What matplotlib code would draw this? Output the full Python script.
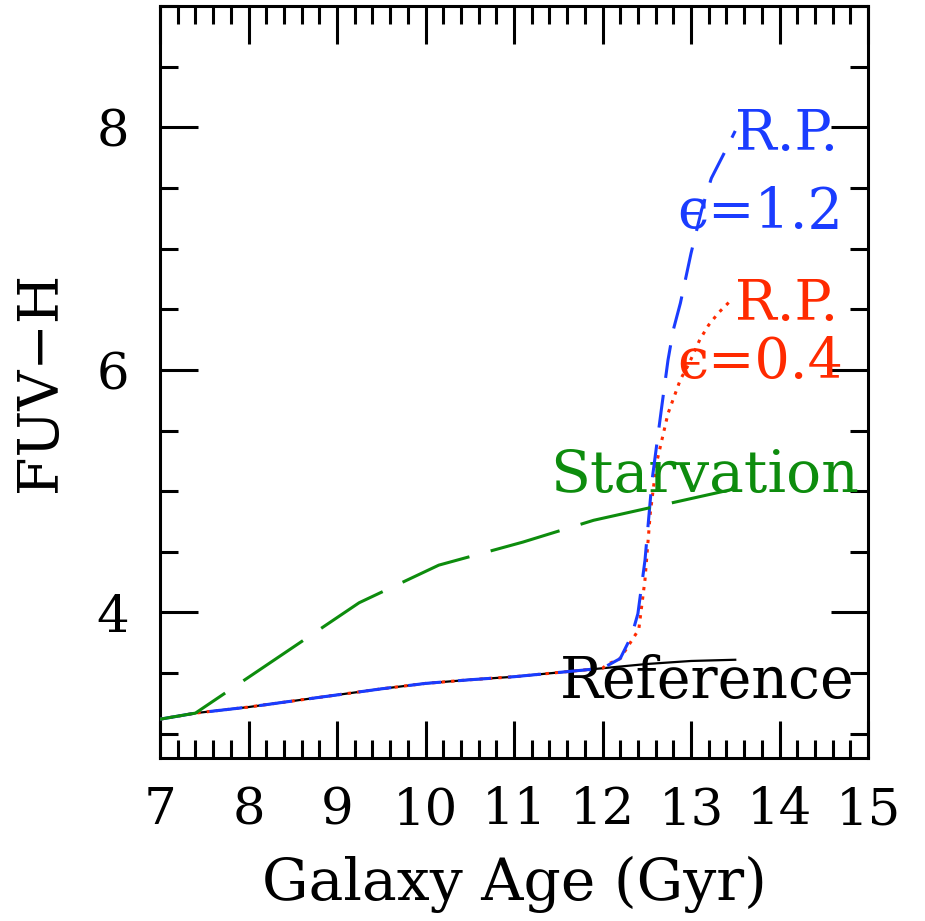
import numpy as np
import matplotlib.pyplot as plt
from matplotlib.ticker import MultipleLocator

# galaxy age (Gyr) and FUV-H colour for each model track
age_ref = [7.0, 7.4, 8.0, 8.5, 9.0, 9.5, 10.0, 10.5, 11.0, 11.5, 12.0, 12.5, 13.0, 13.5]
col_ref = [3.12, 3.17, 3.22, 3.27, 3.32, 3.37, 3.415, 3.445, 3.47, 3.505, 3.54, 3.575, 3.60, 3.61]

age_starv = [7.0, 7.4, 9.25, 10.15, 11.1, 11.9, 12.7, 13.5]
col_starv = [3.12, 3.17, 4.08, 4.39, 4.58, 4.76, 4.89, 5.02]

# ram pressure tracks share the reference track up to 12 Gyr
age_early = age_ref[:11]
col_early = col_ref[:11]

age_rp12 = [12.2, 12.33, 12.40, 12.48, 12.56, 12.67, 12.74, 12.80, 12.88, 13.0, 13.12, 13.23, 13.37, 13.5]
col_rp12 = [3.62, 3.81, 3.99, 4.43, 5.09, 5.70, 6.08, 6.33, 6.55, 6.96, 7.32, 7.58, 7.78, 7.97]

age_rp04 = [12.05, 12.2, 12.41, 12.48, 12.54, 12.61, 12.74, 12.88, 12.97, 13.1, 13.2, 13.31, 13.46]
col_rp04 = [3.57, 3.62, 3.86, 4.27, 4.82, 5.23, 5.64, 5.92, 6.04, 6.25, 6.37, 6.47, 6.58]

blue = '#1a3cff'
red = '#ff2a00'
green = '#0d8c0d'
font = 'DejaVu Serif'

fig = plt.figure(figsize=(9.25, 9.21), dpi=100)
ax = fig.add_axes([160/925, 163/921, 708/925, 752/921])

ax.plot(age_ref, col_ref, color='black', lw=1.6, zorder=2)
ax.plot(age_early + age_rp04, col_early + col_rp04, color=red, lw=2.2,
        linestyle=(0, (1.1, 2.0)), zorder=3)
ax.plot(age_early + age_rp12, col_early + col_rp12, color=blue, lw=2.2,
        linestyle=(0, (10.8, 5.6)), zorder=4)
ax.plot(age_starv, col_starv, color=green, lw=2.2,
        linestyle=(0, (23.5, 7.2)), zorder=5)

fs = 40
ax.text(13.5, 7.81, 'R.P.', color=blue, fontsize=fs, family=font, va='baseline', ha='left')
ax.text(14.72, 7.17, 'ϵ=1.2', color=blue, fontsize=fs, family=font, va='baseline', ha='right')
ax.text(13.5, 6.41, 'R.P.', color=red, fontsize=fs, family=font, va='baseline', ha='left')
ax.text(14.72, 5.93, 'ϵ=0.4', color=red, fontsize=fs, family=font, va='baseline', ha='right')
ax.text(11.41, 4.99, 'Starvation', color=green, fontsize=42, family=font, va='baseline', ha='left')
ax.text(11.52, 3.295, 'Reference', color='black', fontsize=41, family=font, va='baseline', ha='left')

ax.set_xlim(7, 15)
ax.set_ylim(2.8, 9.0)
ax.xaxis.set_major_locator(MultipleLocator(1))
ax.xaxis.set_minor_locator(MultipleLocator(0.2))
ax.yaxis.set_major_locator(MultipleLocator(2))
ax.yaxis.set_minor_locator(MultipleLocator(0.5))
ax.tick_params(which='both', direction='in', top=True, right=True, width=2.2, color='black')
ax.tick_params(which='major', length=27)
ax.tick_params(which='minor', length=13)
ax.tick_params(axis='x', which='major', pad=20)
ax.tick_params(axis='y', which='major', pad=22)
for lab in ax.get_xticklabels() + ax.get_yticklabels():
    lab.set_family(font)
    lab.set_fontsize(37)
for sp in ax.spines.values():
    sp.set_linewidth(2.2)

ax.set_xlabel('Galaxy Age (Gyr)', fontsize=42, family=font, va='baseline')
ax.xaxis.set_label_coords(0.5, -0.189)
ax.set_ylabel('FUV−H', fontsize=40, family=font, va='center')
ax.yaxis.set_label_coords(-0.168, 0.5)

fig.savefig('out.png', dpi=100)
